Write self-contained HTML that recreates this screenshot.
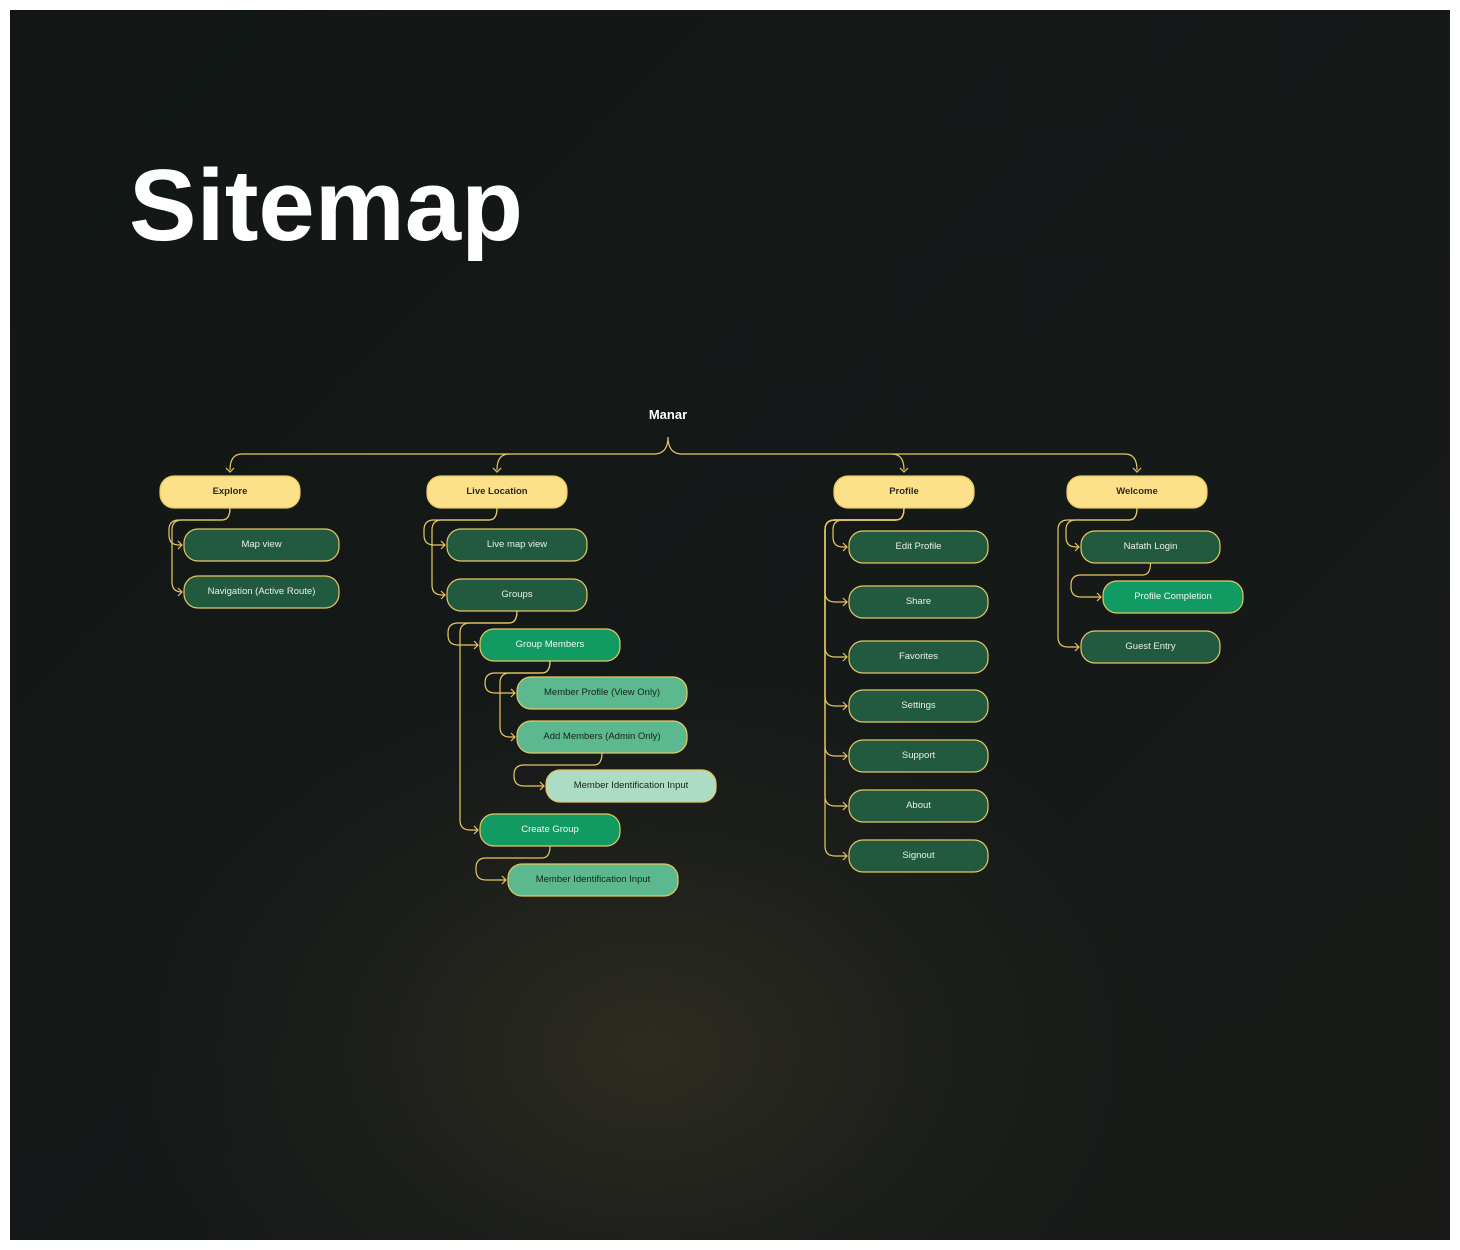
<!DOCTYPE html>
<html><head><meta charset="utf-8"><style>
html,body{margin:0;padding:0;background:#fff;}
#wrap{position:absolute;left:10px;top:10px;width:1440px;height:1230px;overflow:hidden;
background:radial-gradient(ellipse 520px 380px at 640px 1040px,#2d2c22 0%,#1d1f1b 55%,rgba(20,24,23,0) 100%),linear-gradient(135deg,#121716 0%,#151918 60%,#191a18 100%);}
svg{position:absolute;left:0;top:0}
text{font-family:"Liberation Sans","DejaVu Sans",sans-serif;}
</style></head><body>
<div id="wrap"></div>
<svg id="s" width="1460" height="1250" viewBox="0 0 1460 1250" xmlns="http://www.w3.org/2000/svg">
<text x="129" y="240" fill="#fff" font-size="101" font-weight="bold" textLength="394" lengthAdjust="spacingAndGlyphs">Sitemap</text>
<text x="668" y="419" fill="#fff" font-size="13" font-weight="bold" text-anchor="middle">Manar</text>
<g id="lines" fill="none" stroke="#e8c860" stroke-width="1.2"></g>
<g id="boxes"></g>
</svg>
<script>
const L=document.getElementById('lines'),B=document.getElementById('boxes');
const ns='http://www.w3.org/2000/svg';
function p(d){const e=document.createElementNS(ns,'path');e.setAttribute('d',d);L.appendChild(e);}
function box(x,y,w,h,fill,tc,t,bold){
 const r=document.createElementNS(ns,'rect');
 r.setAttribute('x',x);r.setAttribute('y',y);r.setAttribute('width',w);r.setAttribute('height',h);
 r.setAttribute('rx',14);r.setAttribute('fill',fill);r.setAttribute('stroke','#e8c860');r.setAttribute('stroke-width','1.2');
 B.appendChild(r);
 const tx=document.createElementNS(ns,'text');
 tx.setAttribute('x',x+w/2);tx.setAttribute('y',y+h/2+2);tx.setAttribute('text-anchor','middle');
 tx.setAttribute('font-size','9.5');tx.setAttribute('fill',tc);if(bold)tx.setAttribute('font-weight','bold');
 tx.textContent=t;B.appendChild(tx);
 return {x,y,w,h};
}
function arrow(x,y){p(`M${x-4},${y-4} L${x},${y} L${x-4},${y+4}`);}
function conn(par,ch,tx){
 const pc=par.x+par.w/2,pb=par.y+par.h,r=10,cy=ch.y+ch.h/2,cl=ch.x-2;
 p(`M${pc},${pb} q0,12 -8,12 H${tx+r} q-${r},0 -${r},${r} V${cy-r} q0,${r} ${r},${r} H${cl}`);
 arrow(cl,cy);
}
const Y='#fde08a',D='#215a3e',G='#129a63',M='#5bb88f',Lg='#acdcc5';
p('M668,437 q0,17 -14,17 H242 q-12,0 -12,16');
p('M668,437 q0,17 14,17 H1125 q12,0 12,16');
p('M509,454 q-12,0 -12,16');p('M892,454 q12,0 12,16');
[230,497,904,1137].forEach(x=>p(`M${x-4},${468} L${x},${472} L${x+4},${468}`));
const ex=box(160,476,140,32,Y,'#2a2a20','Explore',1);
const lv=box(427,476,140,32,Y,'#2a2a20','Live Location',1);
const pr=box(834,476,140,32,Y,'#2a2a20','Profile',1);
const we=box(1067,476,140,32,Y,'#2a2a20','Welcome',1);
const mv=box(184,529,155,32,D,'#e8efe9','Map view');
const nv=box(184,576,155,32,D,'#e8efe9','Navigation  (Active Route)');
conn(ex,mv,169);conn(ex,nv,172);
const lm=box(447,529,140,32,D,'#e8efe9','Live map view');
const gr=box(447,579,140,32,D,'#e8efe9','Groups');
conn(lv,lm,424);conn(lv,gr,432);
const gm=box(480,629,140,32,G,'#f0f7f2','Group Members');
const cg=box(480,814,140,32,G,'#f0f7f2','Create Group');
conn(gr,gm,448);conn(gr,cg,460);
const mp=box(517,677,170,32,M,'#14251b','Member Profile (View Only)');
const am=box(517,721,170,32,M,'#14251b','Add Members (Admin Only)');
conn(gm,mp,485);conn(gm,am,500);
const mi=box(546,770,170,32,Lg,'#14251b','Member Identification Input');
conn(am,mi,514);
const mi2=box(508,864,170,32,M,'#14251b','Member Identification Input');
conn(cg,mi2,476);
['Edit Profile','Share','Favorites','Settings','Support','About','Signout'].forEach((t,i)=>{
 const ys=[531,586,641,690,740,790,840][i];
 const b=box(849,ys,139,32,D,'#e8efe9',t);
 conn(pr,b,i==0?833:825);
});
const na=box(1081,531,139,32,D,'#e8efe9','Nafath Login');
const pc2=box(1103,581,140,32,G,'#f0f7f2','Profile Completion');
const ge=box(1081,631,139,32,D,'#e8efe9','Guest Entry');
conn(we,na,1066);conn(we,ge,1058);conn(na,pc2,1071);
</script>
</body></html>
